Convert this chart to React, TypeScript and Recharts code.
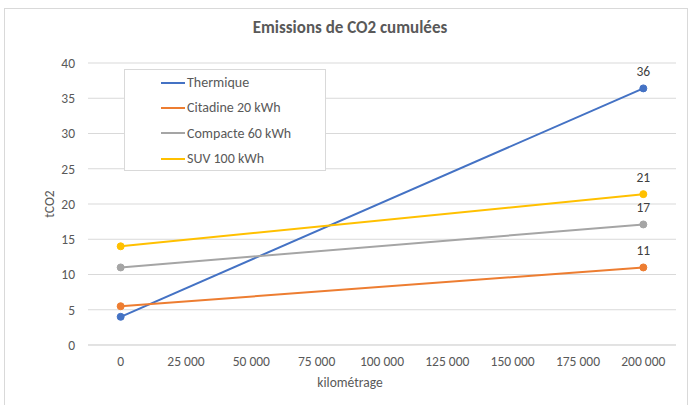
import React from 'react';
import {
  LineChart,
  Line,
  XAxis,
  YAxis,
  CartesianGrid,
  LabelList,
} from 'recharts';

const kilometrage = [0, 200000];
const thermique = [4.0, 36.4];
const citadine = [5.5, 11.0];
const compacte = [11.0, 17.1];
const suv = [14.0, 21.4];

const xTicks = [0, 25000, 50000, 75000, 100000, 125000, 150000, 175000, 200000];
const yTicks = [0, 5, 10, 15, 20, 25, 30, 35, 40];

const series = [
  { key: 'thermique', name: 'Thermique', color: '#4472C4', values: thermique },
  { key: 'citadine', name: 'Citadine 20 kWh', color: '#ED7D31', values: citadine },
  { key: 'compacte', name: 'Compacte 60 kWh', color: '#A5A5A5', values: compacte },
  { key: 'suv', name: 'SUV 100 kWh', color: '#FFC000', values: suv },
];

const data = kilometrage.map((km, i) => {
  const row: Record<string, number> = { km };
  series.forEach((s) => {
    row[s.key] = s.values[i];
  });
  return row;
});

const font = 'Calibri, Carlito, "Open Sans", sans-serif';
const gray = '#595959';
const tickFont = 13.5;

const fmtKm = (v: number) => (v === 0 ? '0' : `${Math.floor(v / 1000)} ${String(v % 1000).padStart(3, '0')}`);

const EndLabel = (props: any) => {
  const { x, y, value, index } = props;
  if (index !== kilometrage.length - 1) return null;
  return (
    <text x={x} y={y - 12} textAnchor="middle" fontSize={tickFont} fill="#404040" fontFamily={font}>
      {Math.round(value)}
    </text>
  );
};

// legend drawn as an overlay so it doesn't eat into the plot area
const LegendBox = () => (
  <div
    style={{
      position: 'absolute',
      left: 124,
      top: 69,
      width: 202,
      height: 102,
      border: '1px solid #d9d9d9',
      background: '#fff',
      boxSizing: 'border-box',
      paddingTop: 0,
    }}
  >
    {series.map((s) => (
      <div key={s.key} style={{ display: 'flex', alignItems: 'center', height: 25.3 }}>
        <div style={{ marginLeft: 36, width: 24, height: 2, background: s.color }} />
        <span style={{ marginLeft: 2, fontSize: 14, color: gray, fontFamily: font }}>{s.name}</span>
      </div>
    ))}
  </div>
);

export default function App() {
  return (
    <div
      style={{
        position: 'absolute',
        left: 0,
        top: 0,
        width: 690,
        height: 405,
        background: '#fff',
        fontFamily: font,
      }}
    >
      <div
        style={{
          position: 'absolute',
          left: 4,
          top: 8,
          width: 684,
          height: 400,
          border: '1px solid #d9d9d9',
          boxSizing: 'border-box',
        }}
      />
      <div
        style={{
          position: 'absolute',
          left: 0,
          top: 17,
          width: 700,
          textAlign: 'center',
          fontSize: 17,
          fontWeight: 'bold',
          color: gray,
          lineHeight: '22px',
        }}
      >
        Emissions de CO2 cumulées
      </div>
      <div
        style={{
          position: 'absolute',
          left: 49,
          top: 204,
          transform: 'translate(-50%, -50%) rotate(-90deg)',
          fontSize: tickFont,
          color: gray,
          whiteSpace: 'nowrap',
        }}
      >
        tCO2
      </div>
      <div
        style={{
          position: 'absolute',
          left: 0,
          top: 374,
          width: 700,
          textAlign: 'center',
          fontSize: tickFont,
          color: gray,
          lineHeight: '18px',
        }}
      >
        kilométrage
      </div>
      <div style={{ position: 'absolute', left: 0, top: 0 }}>
        <LineChart width={690} height={405} data={data} margin={{ top: 63, right: 14, left: 0, bottom: 30 }}>
          <CartesianGrid vertical={false} stroke="#d9d9d9" />
          <XAxis
            dataKey="km"
            type="number"
            domain={[-12500, 212500]}
            ticks={xTicks}
            tickFormatter={fmtKm}
            tickLine={false}
            axisLine={{ stroke: '#d9d9d9' }}
            tickSize={0}
            tickMargin={11}
            height={30}
            tick={{ fontSize: tickFont, fill: gray, fontFamily: font }}
          />
          <YAxis
            type="number"
            domain={[0, 40]}
            ticks={yTicks}
            tickLine={false}
            axisLine={false}
            tickSize={0}
            tickMargin={13}
            width={88}
            tick={{ fontSize: tickFont, fill: gray, fontFamily: font }}
          />
          {series.map((s) => (
            <Line
              key={s.key}
              dataKey={s.key}
              name={s.name}
              stroke={s.color}
              strokeWidth={2}
              dot={{ r: 3.5, fill: s.color, stroke: s.color, strokeWidth: 1 }}
              isAnimationActive={false}
            >
              <LabelList dataKey={s.key} content={<EndLabel />} />
            </Line>
          ))}
        </LineChart>
      </div>
      <LegendBox />
    </div>
  );
}
